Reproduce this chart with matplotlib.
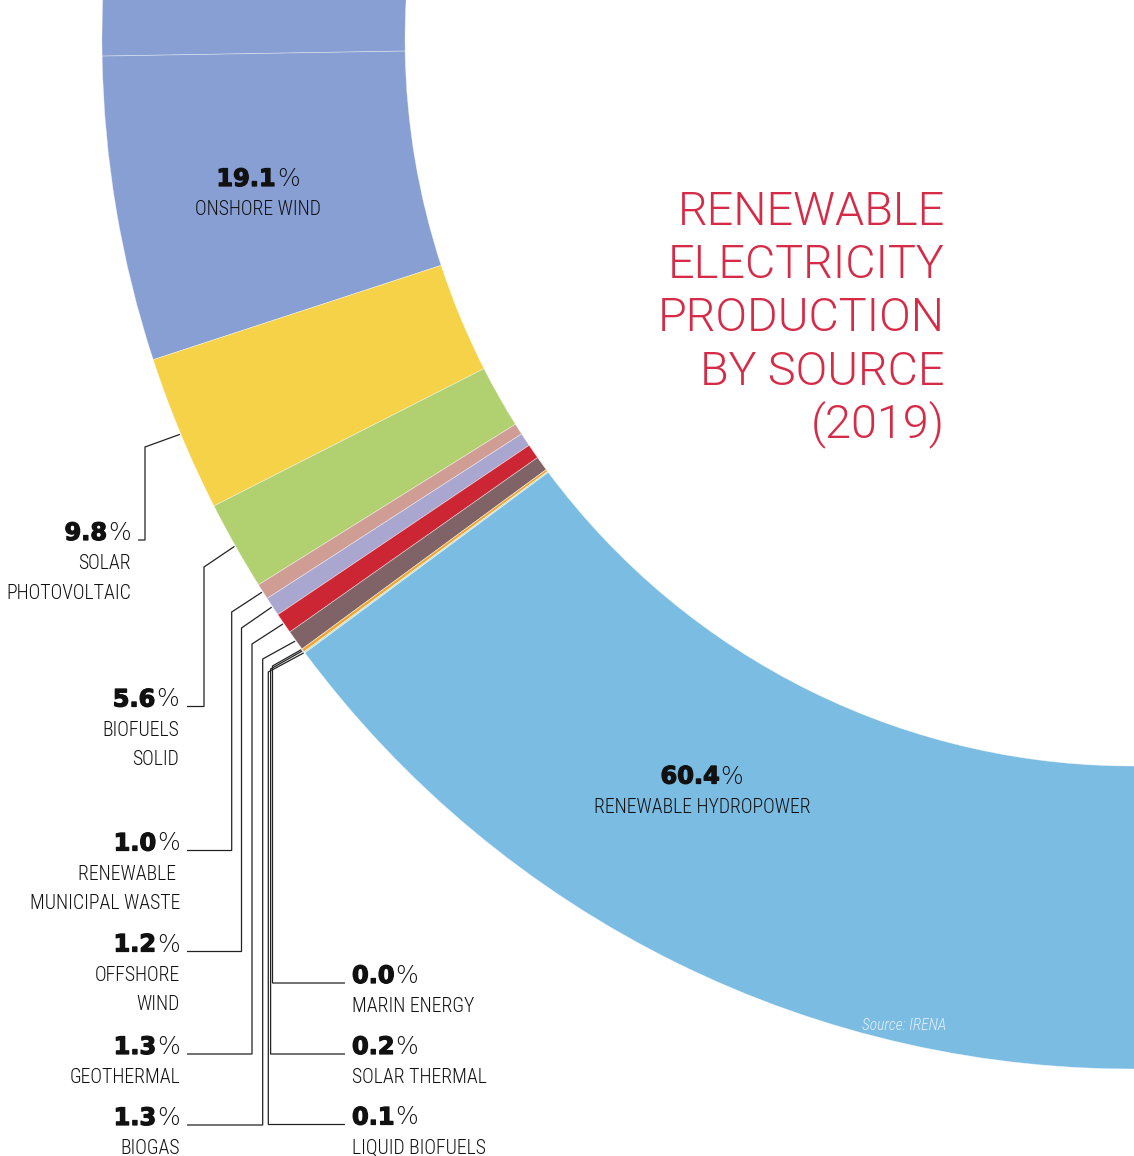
import matplotlib
matplotlib.use("Agg")
import matplotlib.pyplot as plt
from matplotlib.patches import Wedge
import matplotlib.patheffects as pe
import numpy as np

# Renewable electricity production by source, 2019 (share in %)
sources = ["Onshore wind", "Solar photovoltaic", "Biofuels solid",
           "Renewable municipal waste", "Offshore wind", "Geothermal",
           "Biogas", "Marin energy", "Solar thermal", "Liquid biofuels",
           "Renewable hydropower"]
shares = [19.1, 9.8, 5.6, 1.0, 1.2, 1.3, 1.3, 0.0, 0.2, 0.1, 60.4]
colors = ["#889FD3", "#F6D249", "#B1D171", "#D09D94", "#A9A6CF", "#CC2533",
          "#806367", "#7FB9B0", "#EEA531", "#C4DFC2", "#7BBCE3"]
label_lines = [["ONSHORE WIND"], ["SOLAR", "PHOTOVOLTAIC"], ["BIOFUELS", "SOLID"],
               ["RENEWABLE ", "MUNICIPAL WASTE"], ["OFFSHORE", "WIND"],
               ["GEOTHERMAL"], ["BIOGAS"], ["MARIN ENERGY"], ["SOLAR THERMAL"],
               ["LIQUID BIOFUELS"], ["RENEWABLE HYDROPOWER"]]
title_lines = ["RENEWABLE", "ELECTRICITY", "PRODUCTION", "BY SOURCE", "(2019)"]
source_note = "Source: IRENA"

W, H = 1134, 1156
fig = plt.figure(figsize=(W / 100, H / 100), dpi=100)
ax = fig.add_axes([0, 0, 1, 1])

# ring geometry in pixel units (y grows downwards)
CX, CY, R_OUT, RING = 1132, 39, 1030, 303
START = 179.05          # start direction, just below the left horizontal
SPAN = 90.0             # the 100 % share fills a quarter ring
filler = sum(shares) * (360.0 / SPAN - 1.0)

edge = dict(edgecolor=(1, 1, 1, 0.5), linewidth=0.5)
# continuation band above the start of the ring
ax.add_patch(Wedge((CX, CY), R_OUT, START, START + 8, width=RING,
                   facecolor=colors[0], edgecolor=(1, 1, 1, 0.35), linewidth=0.5))
wedges, _ = ax.pie(shares + [filler], colors=colors + ["none"],
                   startangle=START, counterclock=False, radius=R_OUT,
                   center=(CX, CY), frame=True,
                   wedgeprops=dict(width=RING, **edge))
wedges[-1].set_visible(False)

ax.set_xlim(0, W)
ax.set_ylim(H, 0)
ax.set_aspect("equal")
ax.set_axis_off()

renderer = fig.canvas.get_renderer()

INK = "#111111"
NUM = dict(family=["DejaVu Sans"], weight="bold", size=17.3, color=INK,
           path_effects=[pe.withStroke(linewidth=0.9, foreground=INK)])
PCT = dict(family=["DejaVu Sans"], weight=200, size=17.3, color=INK)
LAB = dict(family=["Roboto Condensed"], weight=300, size=14.2, color=INK)
LINE_GAP = 29.3


def share_label(i, x, y, ha):
    """Bold value + light percent sign, followed by the source name lines."""
    t_num = ax.text(0, 0, f"{shares[i]:.1f}", ha="left", va="baseline", **NUM)
    t_pct = ax.text(0, 0, "%", ha="left", va="baseline", **PCT)
    w1 = t_num.get_window_extent(renderer).width
    w2 = t_pct.get_window_extent(renderer).width
    gap = 1.0
    total = w1 + gap + w2
    x0 = {"right": x - total, "left": x, "center": x - total / 2}[ha]
    t_num.set_position((x0, y))
    t_pct.set_position((x0 + w1 + gap, y))
    for k, line in enumerate(label_lines[i]):
        ax.text(x, y + LINE_GAP * (k + 1), line, ha=ha, va="baseline", **LAB)


def leader(i, xv, ytop, ylab, xlab):
    """Elbow leader from the outer edge of wedge i to a label baseline."""
    w = wedges[i]
    mid = np.deg2rad((w.theta1 + w.theta2) / 2)
    px = CX + (R_OUT + 1) * np.cos(mid)
    py = CY + (R_OUT + 1) * np.sin(mid)
    ax.plot([px, xv, xv, xlab], [py, ytop, ylab, ylab], color="#222222",
            lw=0.9, solid_joinstyle="miter", solid_capstyle="butt")


# labels inside the ring
share_label(0, 258, 186, "center")
share_label(10, 702, 783.5, "center")

# left column: (index, text right edge, baseline, line start, vertical x, elbow y)
left_specs = [(1, 131, 540, 138, 145, 447),
              (2, 179, 706.5, 187, 204, 567),
              (3, 180, 850.5, 187, 231.7, 612),
              (4, 180, 951.5, 187, 241.5, 628),
              (5, 180, 1054, 187, 252, 644),
              (6, 180, 1125, 187, 262.7, 659)]
for i, xr, yb, xl, xv, yt in left_specs:
    share_label(i, xr, yb, "right")
    leader(i, xv, yt, yb, xl)

# right column: (index, baseline, vertical x, elbow y)
right_specs = [(7, 983, 272.5, 666),
               (8, 1054, 270.6, 669),
               (9, 1124.5, 268.3, 672)]
for i, yb, xv, yt in right_specs:
    share_label(i, 352, yb, "left")
    leader(i, xv, yt, yb, 345)

# title
TITLE = dict(family=["Roboto"], weight=300, size=33.7, color="#D52B47")
for k, line in enumerate(title_lines):
    ax.text(945, 225 + 53.2 * k, line, ha="right", va="baseline", **TITLE)

ax.text(862, 1030, source_note, ha="left", va="baseline", style="italic",
        family=["Roboto Condensed"], weight=300, size=11.2, color="#E6F1FA")

fig.savefig("out.png", dpi=100)
